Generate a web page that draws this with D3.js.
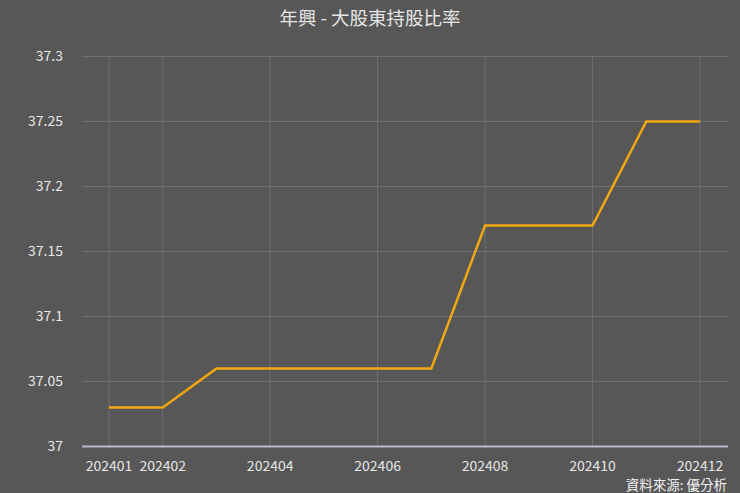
<!DOCTYPE html>
<html><head><meta charset="utf-8">
<script src="https://cdn.jsdelivr.net/npm/d3@7"></script>
<style>
html,body{margin:0;padding:0;background:#575757;}
svg{display:block;}
</style></head>
<body>
<svg id="chart" width="740" height="493"></svg>
<script>
const months = ["202401","202402","202403","202404","202405","202406","202407","202408","202409","202410","202411","202412"];
const ratio = [37.03,37.03,37.06,37.06,37.06,37.06,37.06,37.17,37.17,37.17,37.25,37.25];
const xTickLabels = ["202401","202402","202404","202406","202408","202410","202412"];
const yTicks = [37,37.05,37.1,37.15,37.2,37.25,37.3];
const titleText = "年興 - 大股東持股比率";
const sourceText = "資料來源: 優分析";

const W = 740, H = 493;
const m = {left: 82, right: 12, top: 56, bottom: 46};
const font = "'Noto Sans CJK TC','Noto Sans',sans-serif";
const svg = d3.select("#chart");
svg.append("rect").attr("width", W).attr("height", H).attr("fill", "#575757");

const x = d3.scalePoint().domain(months).range([109, 700]);
const y = d3.scaleLinear().domain([37, 37.3]).range([446.5, 56.5]);

// horizontal grid
svg.append("g").selectAll("line").data(yTicks.slice(1)).join("line")
  .attr("x1", 82).attr("x2", W - m.right)
  .attr("y1", d => y(d)).attr("y2", d => y(d))
  .attr("stroke", "#6f6f6f").attr("stroke-width", 1);

// vertical grid
svg.append("g").selectAll("line").data(xTickLabels).join("line")
  .attr("x1", d => x(d)).attr("x2", d => x(d))
  .attr("y1", y(37.3)).attr("y2", y(37))
  .attr("stroke", "#6f6f6f").attr("stroke-width", 1);

// x axis line
svg.append("line").attr("x1", 82).attr("x2", W - m.right)
  .attr("y1", y(37)).attr("y2", y(37))
  .attr("stroke", "#b9b9d3").attr("stroke-width", 2);

// y labels
svg.append("g").selectAll("text").data(yTicks).join("text")
  .attr("x", 63).attr("y", d => y(d)).attr("dy", "0.35em")
  .attr("text-anchor", "end").attr("fill", "#e6e6e6")
  .attr("font-family", font).attr("font-size", 14)
  .text(d => d3.format("")(d));

// x labels
svg.append("g").selectAll("text").data(xTickLabels).join("text")
  .attr("x", d => x(d)).attr("y", 471)
  .attr("text-anchor", "middle").attr("fill", "#e6e6e6")
  .attr("font-family", font).attr("font-size", 14)
  .text(d => d);

// line
const line = d3.line().x((d, i) => x(months[i])).y(d => y(d));
svg.append("path").datum(ratio).attr("d", line)
  .attr("fill", "none").attr("stroke", "#f2a60f").attr("stroke-width", 2.5)
  .attr("stroke-linejoin", "miter");

// title
svg.append("text").attr("x", 370).attr("y", 25).attr("text-anchor", "middle")
  .attr("fill", "#e6e6e6").attr("font-family", font).attr("font-size", 18.5)
  .text(titleText);

// source
svg.append("text").attr("x", 727).attr("y", 490).attr("text-anchor", "end")
  .attr("fill", "#f0f0f0").attr("font-family", font).attr("font-size", 13.5)
  .text(sourceText);
</script>
</body></html>
